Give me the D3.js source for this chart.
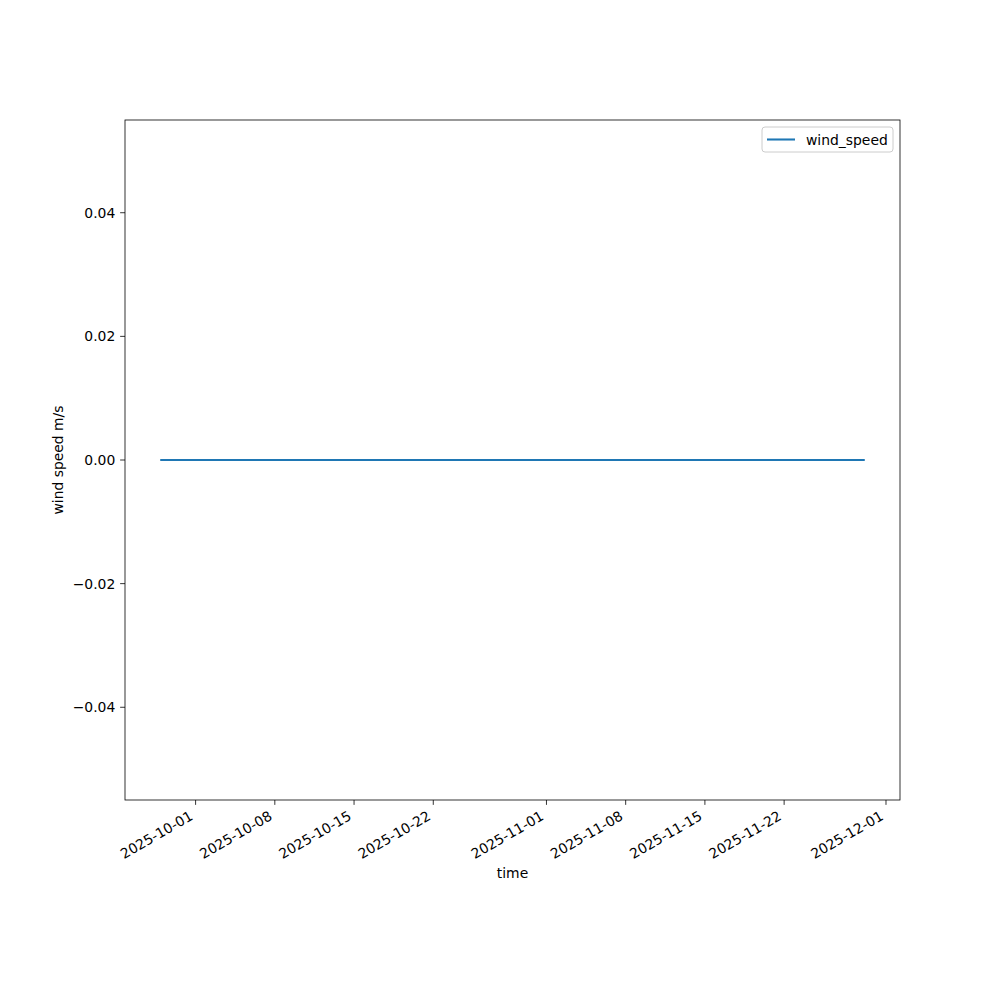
<!DOCTYPE html>
<html>
<head>
<meta charset="utf-8">
<script src="https://cdn.jsdelivr.net/npm/d3@7"></script>
<style>
  body { margin: 0; background: #fff; }
  svg { font-family: "DejaVu Sans", sans-serif; }
</style>
</head>
<body>
<div id="viz"></div>
<script>
// data: wind speed series (flat zero over the whole record)
var times = ["2025-09-27T21:00", "2025-10-05T00:00", "2025-10-15T00:00", "2025-10-25T00:00",
  "2025-11-04T00:00", "2025-11-14T00:00", "2025-11-24T00:00", "2025-11-29T03:00"];
var windSpeed = [0, 0, 0, 0, 0, 0, 0, 0];
var xTicks = ["2025-10-01", "2025-10-08", "2025-10-15", "2025-10-22", "2025-11-01",
  "2025-11-08", "2025-11-15", "2025-11-22", "2025-12-01"];
var yTicks = [-0.04, -0.02, 0.00, 0.02, 0.04];
var seriesName = "wind_speed";

var W = 1000, H = 1000;
var margin = { top: 120, right: 100, bottom: 200, left: 125 },
  width = W - margin.left - margin.right,
  height = H - margin.top - margin.bottom;

var parse = d3.isoParse;
var data = times.map(function (t, i) { return { t: parse(t), v: windSpeed[i] }; });

// matplotlib-like 5% margins
var tExt = d3.extent(data, function (d) { return d.t; });
var span = tExt[1] - tExt[0];
var xScale = d3.scaleTime()
  .domain([new Date(+tExt[0] - 0.05 * span), new Date(+tExt[1] + 0.05 * span)])
  .range([0, width]);
var yScale = d3.scaleLinear().domain([-0.055, 0.055]).range([height, 0]);

var svg = d3.select("#viz").append("svg")
  .attr("width", W)
  .attr("height", H);
var g = svg.append("g")
  .attr("transform", "translate(" + margin.left + "," + margin.top + ")");

var fs = 13.9, tickLen = 4.86, pad = 4.86;
var fmtY = function (d) { return d3.format(".2f")(d).replace("-", "\u2212"); };

// x ticks
var xg = g.append("g").attr("transform", "translate(0," + height + ")");
xTicks.forEach(function (s) {
  var x = xScale(parse(s));
  xg.append("line").attr("x1", x).attr("x2", x).attr("y1", 0).attr("y2", tickLen)
    .attr("stroke", "#000").attr("stroke-width", 0.8);
  var asc = fs * 0.76, desc = fs * 0.24;
  xg.append("text")
    .attr("transform", "translate(" + (x - desc * 0.5) + "," + (tickLen + pad + asc * 0.866) + ") rotate(-30)")
    .attr("text-anchor", "end")
    .attr("font-size", fs)
    .attr("fill", "#000")
    .text(s);
});

// y ticks
var yg = g.append("g");
yTicks.forEach(function (v) {
  var y = yScale(v);
  yg.append("line").attr("x1", 0).attr("x2", -tickLen).attr("y1", y).attr("y2", y)
    .attr("stroke", "#000").attr("stroke-width", 0.8);
  yg.append("text")
    .attr("x", -tickLen - pad)
    .attr("y", y)
    .attr("dy", "0.36em")
    .attr("text-anchor", "end")
    .attr("font-size", fs)
    .attr("fill", "#000")
    .text(fmtY(v));
});

// line
var line = d3.line()
  .x(function (d) { return xScale(d.t); })
  .y(function (d) { return yScale(d.v); });
g.append("path")
  .datum(data)
  .attr("d", line)
  .attr("fill", "none")
  .attr("stroke", "#1f77b4")
  .attr("stroke-width", 2.08);

// frame
g.append("rect")
  .attr("width", width).attr("height", height)
  .attr("fill", "none").attr("stroke", "#000").attr("stroke-width", 0.8);

// axis labels
svg.append("text")
  .attr("x", margin.left + width / 2)
  .attr("y", 878)
  .attr("text-anchor", "middle")
  .attr("font-size", fs)
  .text("time");
svg.append("text")
  .attr("transform", "translate(63," + (margin.top + height / 2) + ") rotate(-90)")
  .attr("text-anchor", "middle")
  .attr("font-size", fs)
  .text("wind speed m/s");

// legend
var lg = g.append("g").attr("transform", "translate(" + (width - 138) + ",7)");
lg.append("rect")
  .attr("width", 131).attr("height", 25).attr("rx", 3)
  .attr("fill", "#fff").attr("fill-opacity", 0.8)
  .attr("stroke", "#ccc");
lg.append("line")
  .attr("x1", 5).attr("x2", 33).attr("y1", 12.5).attr("y2", 12.5)
  .attr("stroke", "#1f77b4").attr("stroke-width", 2.08);
lg.append("text")
  .attr("x", 44).attr("y", 12.5).attr("dy", "0.36em")
  .attr("font-size", fs)
  .text(seriesName);
</script>
</body>
</html>
